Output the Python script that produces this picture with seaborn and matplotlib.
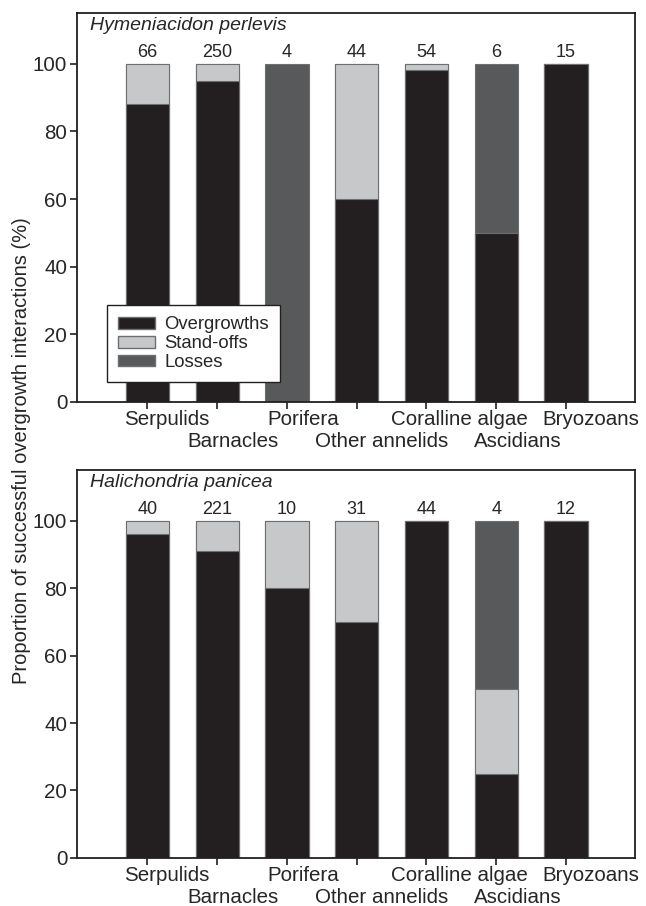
import numpy as np
import pandas as pd
import matplotlib
matplotlib.use("Agg")
import matplotlib.pyplot as plt
import matplotlib.transforms as mtransforms
from matplotlib.patches import Patch
import seaborn as sns

sns.set_style("white")
plt.rcParams["font.family"] = ["Liberation Sans", "DejaVu Sans"]

# ------------------------------------------------------------
# data
# ------------------------------------------------------------
groups = ["Serpulids", "Barnacles", "Porifera", "Other annelids",
          "Coralline algae", "Ascidians", "Bryozoans"]

hym_over = [88, 95, 0, 60, 98, 50, 100]
hym_stand = [12, 5, 0, 40, 2, 0, 0]
hym_loss = [0, 0, 100, 0, 0, 50, 0]
hym_n = [66, 250, 4, 44, 54, 6, 15]

hal_over = [96, 91, 80, 70, 100, 25, 100]
hal_stand = [4, 9, 20, 30, 0, 25, 0]
hal_loss = [0, 0, 0, 0, 0, 50, 0]
hal_n = [40, 221, 10, 31, 44, 4, 12]

C_OVER = "#231f20"
C_STAND = "#c7c8ca"
C_LOSS = "#58595b"
EDGE = "#6d6e70"

# labels in the original sit a little right of their ticks (pixels)
label_shift = [19, 16, 16, 25, 33, 22, 25]


def panel(fig, ax, title, over, stand, loss, n):
    df = pd.DataFrame({"group": groups, "over": over,
                       "stand": stand, "loss": loss})
    df["c2"] = df["over"] + df["stand"]
    df["c3"] = df["c2"] + df["loss"]

    # stacked by drawing cumulative totals back to front
    for col, colr in [("c3", C_LOSS), ("c2", C_STAND), ("over", C_OVER)]:
        sns.barplot(data=df, x="group", y=col, color=colr, width=0.62,
                    edgecolor=EDGE, linewidth=0.8, saturation=1, ax=ax)

    for i, v in enumerate(n):
        ax.text(i, 102, str(v), ha="center", va="baseline", fontsize=13)

    ax.text(0.023, 0.99, title, transform=ax.transAxes, style="italic",
            ha="left", va="top", fontsize=14)

    ax.set_xlim(-1.01, 6.99)
    ax.set_ylim(0, 115)
    ax.set_yticks([0, 20, 40, 60, 80, 100])
    ax.set_xticks(range(len(groups)))
    ax.set_xticklabels(groups)
    ax.set_xlabel("")
    ax.set_ylabel("")
    ax.tick_params(axis="both", which="both", direction="out", length=5,
                   width=1.2, color="#231f20", labelsize=14.8, pad=2,
                   left=True, bottom=True)
    ax.tick_params(axis="x", pad=1)
    # alternate labels drop to a second row
    for i, (lab, dx) in enumerate(zip(ax.get_xticklabels(), label_shift)):
        dy = -22 if i % 2 else 0
        lab.set_transform(lab.get_transform() + mtransforms.ScaledTranslation(
            dx / 100, dy / 100, fig.dpi_scale_trans))
    for s in ax.spines.values():
        s.set_linewidth(1.3)
        s.set_color("#231f20")


fig = plt.figure(figsize=(6.46, 9.06), dpi=100)
ax1 = fig.add_axes([0.1192, 0.5563, 0.8638, 0.4294])
ax2 = fig.add_axes([0.1192, 0.0530, 0.8638, 0.4283])

panel(fig, ax1, "Hymeniacidon perlevis", hym_over, hym_stand, hym_loss, hym_n)
panel(fig, ax2, "Halichondria panicea", hal_over, hal_stand, hal_loss, hal_n)

handles = [Patch(facecolor=C_OVER, edgecolor=EDGE, label="Overgrowths"),
           Patch(facecolor=C_STAND, edgecolor=EDGE, label="Stand-offs"),
           Patch(facecolor=C_LOSS, edgecolor=EDGE, label="Losses")]
leg = ax1.legend(handles=handles, loc="lower left",
                 bbox_to_anchor=(0.054, 0.051), borderaxespad=0,
                 fontsize=13.3, frameon=True, fancybox=False, framealpha=1,
                 edgecolor="#231f20", handlelength=2.0, handleheight=0.6,
                 handletextpad=0.5, labelspacing=0.1, borderpad=0.6)
leg.get_frame().set_linewidth(1.0)

fig.text(0.034, 0.503, "Proportion of successful overgrowth interactions (%)",
         rotation=90, ha="center", va="center", fontsize=14.5)

fig.savefig("out.png", dpi=100, facecolor="white")
